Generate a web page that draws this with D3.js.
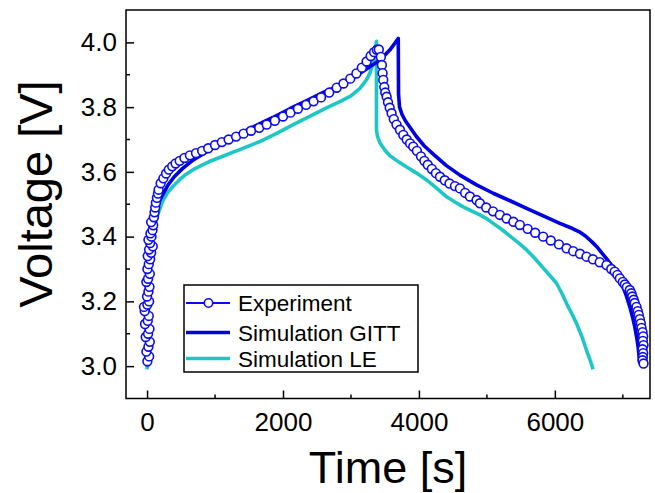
<!DOCTYPE html>
<html>
<head>
<meta charset="utf-8">
<script src="https://cdn.jsdelivr.net/npm/d3@7/dist/d3.min.js"></script>
<style>
  html, body { margin: 0; padding: 0; background: #fff; }
  svg { display: block; font-family: "Liberation Sans", Arial, sans-serif; }
</style>
</head>
<body>
<svg id="chart" width="655" height="493"></svg>
<script>
// Experiment (open circles): [time s, voltage V]
var experiment = [
  [5, 3.015], [30, 3.03], [-10, 3.045], [20, 3.06], [40, 3.075], [-20, 3.09], [15, 3.10],
  [35, 3.115], [-30, 3.13], [10, 3.14], [25, 3.155], [-35, 3.17], [-45, 3.183], [5, 3.19],
  [30, 3.20], [0, 3.215], [20, 3.23], [35, 3.245], [-10, 3.26], [15, 3.27], [40, 3.285],
  [5, 3.30], [25, 3.315], [45, 3.33], [10, 3.34], [60, 3.35], [30, 3.36], [84, 3.37],
  [45, 3.38], [20, 3.39], [65, 3.40], [50, 3.41], [80, 3.42], [90, 3.435], [60, 3.445],
  [100, 3.46], [110, 3.475], [120, 3.49], [130, 3.505], [145, 3.52], [160, 3.533],
  [170, 3.545], [200, 3.565], [240, 3.58], [280, 3.595], [320, 3.607], [370, 3.617],
  [420, 3.626], [480, 3.634], [550, 3.643], [630, 3.651], [720, 3.658], [810, 3.665],
  [900, 3.673], [1000, 3.683], [1100, 3.692], [1200, 3.700], [1310, 3.709], [1420, 3.718],
  [1530, 3.727], [1650, 3.736], [1760, 3.746], [1880, 3.758], [2000, 3.771], [2110, 3.783],
  [2220, 3.795], [2340, 3.807], [2450, 3.818], [2560, 3.830], [2680, 3.845], [2790, 3.860],
  [2890, 3.873], [2990, 3.888], [3080, 3.904], [3160, 3.922], [3230, 3.941], [3290, 3.958],
  [3340, 3.970], [3380, 3.977], [3410, 3.978],
  [3440, 3.955], [3455, 3.930], [3465, 3.905], [3475, 3.884], [3490, 3.862], [3505, 3.845],
  [3525, 3.832], [3545, 3.815], [3570, 3.798], [3598, 3.781], [3630, 3.763], [3670, 3.746],
  [3720, 3.730], [3770, 3.714], [3820, 3.700], [3870, 3.688], [3916, 3.678], [3970, 3.665],
  [4030, 3.648], [4080, 3.634], [4130, 3.622], [4190, 3.609], [4250, 3.596], [4310, 3.585],
  [4380, 3.574], [4450, 3.564], [4530, 3.556], [4603, 3.549], [4680, 3.535], [4750, 3.524],
  [4848, 3.513], [4897, 3.503], [4990, 3.490], [5090, 3.478], [5191, 3.467], [5290, 3.456],
  [5390, 3.446], [5485, 3.436], [5600, 3.424], [5710, 3.412], [5828, 3.400], [5940, 3.388],
  [6060, 3.376], [6172, 3.364], [6270, 3.355], [6370, 3.347], [6466, 3.338], [6560, 3.330],
  [6660, 3.321], [6760, 3.312], [6830, 3.300], [6880, 3.292], [6920, 3.282], [6956, 3.271],
  [7000, 3.260], [7030, 3.252], [7060, 3.244], [7103, 3.235], [7125, 3.225], [7140, 3.215],
  [7160, 3.205], [7175, 3.195], [7201, 3.183], [7220, 3.170], [7235, 3.158], [7250, 3.145],
  [7265, 3.132], [7275, 3.118], [7290, 3.105], [7300, 3.092], [7295, 3.078], [7305, 3.065],
  [7290, 3.052], [7300, 3.040], [7295, 3.028], [7290, 3.018], [7305, 3.008]
];

// Simulation GITT (dark blue line)
var simGitt = [
  [15, 3.00], [15, 3.10], [20, 3.20], [30, 3.30], [45, 3.38], [70, 3.43], [110, 3.47],
  [160, 3.50], [230, 3.53], [310, 3.56], [400, 3.585], [520, 3.61], [680, 3.637],
  [880, 3.662], [1100, 3.69], [1350, 3.717], [1600, 3.743], [1850, 3.768], [2100, 3.795],
  [2350, 3.82], [2600, 3.846], [2850, 3.868], [3100, 3.900], [3300, 3.928], [3426, 3.945],
  [3574, 3.977], [3696, 4.012], [3700, 3.84], [3715, 3.80], [3750, 3.778], [3800, 3.758],
  [3860, 3.74], [3960, 3.71], [4080, 3.68], [4211, 3.655], [4400, 3.62], [4603, 3.59],
  [4848, 3.56], [5093, 3.534], [5350, 3.51], [5584, 3.487], [5830, 3.464], [6074, 3.441],
  [6260, 3.425], [6360, 3.415], [6450, 3.402], [6550, 3.383], [6620, 3.368], [6690, 3.350],
  [6760, 3.332], [6820, 3.316], [6880, 3.297], [6940, 3.274], [7004, 3.245], [7060, 3.212],
  [7103, 3.183], [7145, 3.150], [7176, 3.121], [7205, 3.088], [7225, 3.060], [7250, 3.008]
];

// Simulation LE (cyan line)
var simLe = [
  [0, 2.99], [10, 3.10], [20, 3.20], [30, 3.30], [50, 3.37], [80, 3.41], [110, 3.43],
  [160, 3.47], [230, 3.51], [300, 3.535], [380, 3.555], [475, 3.575], [570, 3.592],
  [672, 3.606], [800, 3.62], [917, 3.632], [1162, 3.652], [1400, 3.672], [1652, 3.693],
  [1900, 3.718], [2143, 3.745], [2400, 3.772], [2632, 3.797], [2838, 3.817], [3000, 3.835],
  [3132, 3.858], [3230, 3.885], [3279, 3.905], [3338, 3.946], [3375, 4.003], [3375, 3.73],
  [3390, 3.71], [3426, 3.69], [3500, 3.667], [3574, 3.650], [3700, 3.631], [3819, 3.615],
  [3960, 3.597], [4113, 3.575], [4260, 3.55], [4407, 3.523], [4530, 3.507], [4652, 3.492],
  [4780, 3.479], [4897, 3.467], [5000, 3.455], [5093, 3.441], [5220, 3.422], [5350, 3.40],
  [5470, 3.380], [5584, 3.359], [5700, 3.334], [5800, 3.31], [5910, 3.284], [6025, 3.256],
  [6110, 3.222], [6180, 3.19], [6250, 3.162], [6319, 3.132], [6400, 3.09], [6466, 3.049],
  [6520, 3.018], [6563, 2.99]
];

var xTicks = [0, 2000, 4000, 6000];
var xMinorTicks = [1000, 3000, 5000, 7000];
var yTicks = [3.0, 3.2, 3.4, 3.6, 3.8, 4.0];
var yMinorTicks = [3.1, 3.3, 3.5, 3.7, 3.9];
var seriesNames = ['Experiment', 'Simulation GITT', 'Simulation LE'];

var blue = '#0c0cf0';
var gittBlue = '#0000e0';
var cyan = '#1fc6c6';

var plotLeft = 126, plotRight = 650, plotTop = 10, plotBottom = 398.5;

var x = d3.scaleLinear().domain([-310, 7400]).range([plotLeft, plotRight]);
var y = d3.scaleLinear().domain([2.9, 4.1]).range([plotBottom, plotTop]);

var svg = d3.select('#chart');

// Axes (ticks point inward)
var xAxis = d3.axisBottom(x).tickValues(xTicks).tickFormat(d3.format('d'))
  .tickSizeInner(-8).tickSizeOuter(0).tickPadding(14);
var yAxis = d3.axisLeft(y).tickValues(yTicks).tickFormat(d3.format('.1f'))
  .tickSizeInner(-8).tickSizeOuter(0).tickPadding(9);

var gx = svg.append('g').attr('transform', 'translate(0,' + plotBottom + ')').call(xAxis);
var gy = svg.append('g').attr('transform', 'translate(' + plotLeft + ',0)').call(yAxis);

[gx, gy].forEach(function (g) {
  g.select('.domain').remove();
  g.selectAll('line').attr('stroke', '#000').attr('stroke-width', 1.5);
  g.selectAll('text').attr('fill', '#000').style('font-size', '26px');
});

// Minor ticks
svg.append('g').selectAll('line').data(xMinorTicks).join('line')
  .attr('x1', x).attr('x2', x).attr('y1', plotBottom).attr('y2', plotBottom - 4)
  .attr('stroke', '#000').attr('stroke-width', 1.5);
svg.append('g').selectAll('line').data(yMinorTicks).join('line')
  .attr('y1', y).attr('y2', y).attr('x1', plotLeft).attr('x2', plotLeft + 4)
  .attr('stroke', '#000').attr('stroke-width', 1.5);

// Frame
svg.append('rect')
  .attr('x', plotLeft).attr('y', plotTop)
  .attr('width', plotRight - plotLeft).attr('height', plotBottom - plotTop)
  .attr('fill', 'none').attr('stroke', '#000').attr('stroke-width', 1.5);

// Curves
var line = d3.line()
  .x(function (d) { return x(d[0]); })
  .y(function (d) { return y(d[1]); });

svg.append('path').datum(simLe).attr('d', line)
  .attr('fill', 'none').attr('stroke', cyan).attr('stroke-width', 3.6)
  .attr('stroke-linejoin', 'round');

svg.append('path').datum(simGitt).attr('d', line)
  .attr('fill', 'none').attr('stroke', gittBlue).attr('stroke-width', 3.6)
  .attr('stroke-linejoin', 'round');

svg.append('g').selectAll('circle').data(experiment).join('circle')
  .attr('cx', function (d) { return x(d[0]); })
  .attr('cy', function (d) { return y(d[1]); })
  .attr('r', 4.4)
  .attr('fill', '#fff').attr('stroke', blue).attr('stroke-width', 1.6);

// Legend
var legend = svg.append('g').attr('transform', 'translate(184,285)');
legend.append('rect')
  .attr('width', 234).attr('height', 87)
  .attr('fill', '#fff').attr('stroke', '#000').attr('stroke-width', 1.5);

var rowY = [18, 47.5, 73.5];
var rowColor = [blue, gittBlue, cyan];
seriesNames.forEach(function (name, i) {
  legend.append('line')
    .attr('x1', 2).attr('x2', 46).attr('y1', rowY[i]).attr('y2', rowY[i])
    .attr('stroke', rowColor[i]).attr('stroke-width', i === 0 ? 2.2 : 3.6);
  if (i === 0) {
    legend.append('circle').attr('cx', 24.5).attr('cy', rowY[i]).attr('r', 4.2)
      .attr('fill', '#fff').attr('stroke', blue).attr('stroke-width', 1.6);
  }
  legend.append('text')
    .attr('x', 54).attr('y', rowY[i] + 8)
    .style('font-size', '22.5px').attr('fill', '#000')
    .text(name);
});

// Axis titles
svg.append('text')
  .attr('x', (plotLeft + plotRight) / 2).attr('y', 483)
  .attr('text-anchor', 'middle').style('font-size', '45px')
  .text('Time [s]');

svg.append('text')
  .attr('transform', 'translate(52,194) rotate(-90)')
  .attr('text-anchor', 'middle').style('font-size', '47px')
  .text('Voltage [V]');
</script>
</body>
</html>
